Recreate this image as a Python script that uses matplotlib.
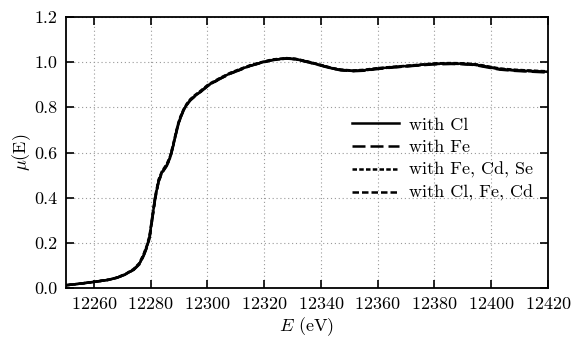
import matplotlib
matplotlib.use("Agg")
import matplotlib.pyplot as plt
import numpy as np

plt.rcParams['font.family'] = 'serif'
plt.rcParams['font.serif'] = ['cmr10', 'DejaVu Serif']
plt.rcParams['mathtext.fontset'] = 'cm'
plt.rcParams['axes.formatter.use_mathtext'] = True
plt.rcParams['font.size'] = 13

energy = [12248, 12250, 12255, 12260, 12265, 12268, 12271, 12274, 12276, 12277.5, 12278.7,
          12279.6, 12280.4, 12281.6, 12282.8, 12284.0, 12285.0, 12285.7, 12286.9, 12288.1,
          12289.0, 12289.8, 12290.7, 12291.6, 12292.7, 12294, 12295.7, 12297.5, 12300.4,
          12304.6, 12308.1, 12312, 12315, 12319.6, 12323, 12327.8, 12331, 12335, 12339.6,
          12344, 12347, 12351.3, 12355, 12359.5, 12365, 12370.1, 12375, 12380.7, 12386,
          12390, 12393.6, 12396, 12399.4, 12403, 12407.6, 12412, 12418.8, 12422]

mu_cl = [0.011, 0.012, 0.019, 0.027, 0.036, 0.045, 0.060, 0.082, 0.107, 0.145, 0.185,
         0.225, 0.295, 0.400, 0.475, 0.513, 0.532, 0.545, 0.580, 0.640,
         0.690, 0.729, 0.762, 0.788, 0.812, 0.833, 0.852, 0.869, 0.899,
         0.929, 0.951, 0.970, 0.984, 1.000, 1.010, 1.017, 1.014, 1.003, 0.988,
         0.973, 0.966, 0.962, 0.964, 0.971, 0.978, 0.983, 0.988, 0.993, 0.994,
         0.993, 0.990, 0.986, 0.978, 0.970, 0.965, 0.962, 0.958, 0.957]

mu_fe = [0.011, 0.012, 0.019, 0.027, 0.036, 0.045, 0.059, 0.080, 0.104, 0.141, 0.180,
         0.220, 0.289, 0.394, 0.470, 0.509, 0.528, 0.541, 0.576, 0.636,
         0.686, 0.726, 0.759, 0.786, 0.810, 0.831, 0.850, 0.867, 0.897,
         0.927, 0.949, 0.968, 0.983, 0.999, 1.009, 1.016, 1.013, 1.001, 0.986,
         0.971, 0.964, 0.960, 0.962, 0.969, 0.976, 0.981, 0.986, 0.991, 0.992,
         0.991, 0.988, 0.983, 0.975, 0.967, 0.962, 0.959, 0.955, 0.954]

mu_fecdse = [0.011, 0.012, 0.019, 0.027, 0.036, 0.046, 0.061, 0.084, 0.110, 0.149, 0.190,
             0.231, 0.301, 0.406, 0.480, 0.517, 0.536, 0.549, 0.585, 0.645,
             0.694, 0.733, 0.765, 0.791, 0.815, 0.836, 0.855, 0.872, 0.902,
             0.931, 0.953, 0.972, 0.986, 1.002, 1.012, 1.018, 1.015, 1.004, 0.989,
             0.974, 0.967, 0.963, 0.966, 0.973, 0.979, 0.984, 0.989, 0.995, 0.996,
             0.995, 0.992, 0.988, 0.980, 0.972, 0.967, 0.964, 0.960, 0.959]

mu_clfecd = [0.011, 0.012, 0.019, 0.027, 0.036, 0.045, 0.060, 0.081, 0.106, 0.143, 0.183,
             0.223, 0.292, 0.397, 0.472, 0.511, 0.530, 0.543, 0.578, 0.638,
             0.688, 0.727, 0.760, 0.787, 0.811, 0.832, 0.851, 0.868, 0.898,
             0.928, 0.950, 0.969, 0.984, 1.000, 1.010, 1.016, 1.013, 1.002, 0.987,
             0.972, 0.965, 0.961, 0.963, 0.970, 0.977, 0.982, 0.987, 0.992, 0.993,
             0.992, 0.989, 0.985, 0.977, 0.969, 0.964, 0.961, 0.957, 0.956]

labels = ['with Cl', 'with Fe', 'with Fe, Cd, Se', 'with Cl, Fe, Cd']
styles = ['-', (0, (5.2, 2.0)), (0, (1.8, 0.9)), (0, (2.6, 1.2))]

fig = plt.figure(figsize=(5.77, 3.37), dpi=100)
ax = fig.add_axes([65.5/577, 1 - 288/337, (548 - 65.5)/577, (288 - 17)/337])

for series, lab, ls in zip([mu_cl, mu_fe, mu_fecdse, mu_clfecd], labels, styles):
    ax.plot(energy, series, color='black', lw=1.8, linestyle=ls, label=lab,
            solid_joinstyle='round', dash_joinstyle='round')

ax.set_xlim(12250, 12420)
ax.set_ylim(0, 1.2)
ax.set_xticks(np.arange(12260, 12421, 20))
ax.set_yticks(np.arange(0, 1.21, 0.2))
ax.set_yticklabels(['0.0', '0.2', '0.4', '0.6', '0.8', '1.0', '1.2'])
ax.grid(True, linestyle=(0, (1, 2.5)), color='#999999', lw=0.8)
ax.tick_params(direction='in', top=True, right=True, length=6, width=1.2, pad=6)
for s in ax.spines.values():
    s.set_linewidth(1.3)

ax.set_xlabel(r'$E$ (eV)', labelpad=2)
ax.set_ylabel(r'$\mu$(E)', labelpad=1)

leg = ax.legend(loc='center left', bbox_to_anchor=(0.594, 0.475), frameon=False,
                handlelength=2.6, handletextpad=0.55, labelspacing=0.38, borderaxespad=0,
                borderpad=0)

fig.savefig('out.png', dpi=100)
